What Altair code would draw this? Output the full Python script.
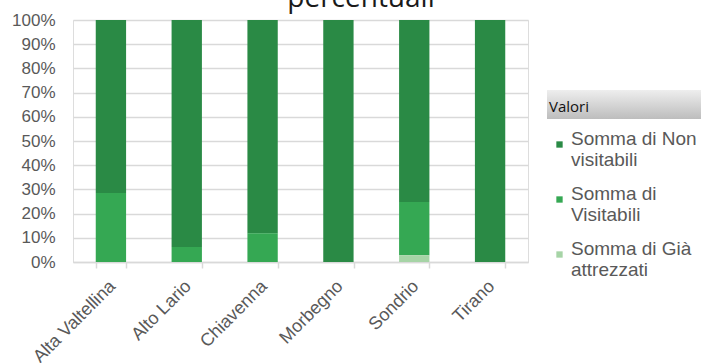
import altair as alt
import pandas as pd

# Shares per area (percent of the total for each area)
aree = ["Alta Valtellina", "Alto Lario", "Chiavenna", "Morbegno", "Sondrio", "Tirano"]
gia_attrezzati = [0.0, 0.0, 0.0, 0.0, 2.8, 0.0]
visitabili = [28.5, 6.2, 11.9, 0.0, 22.0, 0.0]
non_visitabili = [71.5, 93.8, 88.1, 100.0, 75.2, 100.0]

serie = ["Somma di Non visitabili", "Somma di Visitabili", "Somma di Già attrezzati"]
colori = ["#2a8a45", "#35a853", "#a6d4a6"]
ordine_stack = {"Somma di Già attrezzati": 0, "Somma di Visitabili": 1, "Somma di Non visitabili": 2}

rows = []
for i, area in enumerate(aree):
    for nome, valori in zip(serie, [non_visitabili, visitabili, gia_attrezzati]):
        rows.append({"area": area, "serie": nome, "valore": valori[i], "ordine": ordine_stack[nome]})
df = pd.DataFrame(rows)

W, H = 455, 242
label_font = "Liberation Sans"
grey = "#595959"

bars = alt.Chart(df).mark_bar().encode(
    x=alt.X(
        "area:N",
        sort=aree,
        title=None,
        scale=alt.Scale(paddingInner=0.6, paddingOuter=0.3),
        axis=alt.Axis(
            labelAngle=-45,
            labelFont=label_font,
            labelFontSize=18,
            labelColor=grey,
            labelPadding=9,
            labelOffset=-5,
            domainColor="#d9d9d9",
            domainWidth=1.5,
            tickColor="#d9d9d9",
            tickWidth=1.5,
            tickSize=6,
            tickBand="extent",
            grid=False,
        ),
    ),
    y=alt.Y(
        "valore:Q",
        stack="normalize",
        title=None,
        axis=alt.Axis(
            values=[i / 10 for i in range(11)],
            format=".0%",
            labelFont=label_font,
            labelFontSize=17,
            labelColor=grey,
            labelPadding=18,
            domain=False,
            ticks=False,
            gridColor="#d9d9d9",
            gridWidth=1.5,
        ),
    ),
    color=alt.Color(
        "serie:N",
        scale=alt.Scale(domain=serie, range=colori),
        legend=alt.Legend(
            title=None,
            orient="none",
            legendX=477,
            legendY=115,
            symbolType="square",
            symbolSize=40,
            symbolStrokeWidth=0,
            labelFont=label_font,
            labelFontSize=19,
            labelColor=grey,
            labelBaseline="alphabetic",
            labelOffset=2,
            labelLimit=200,
            labelExpr="split(replace(datum.label, /^(Somma di( Non| Già)?) /, '$1|'), '|')",
            rowPadding=14,
            padding=0,
        ),
    ),
    order=alt.Order("ordine:Q", sort="ascending"),
)

header_df = pd.DataFrame({"testo": ["Valori"]})
header_box = alt.Chart(header_df).mark_rect(
    color=alt.Gradient(
        gradient="linear",
        x1=0, x2=0, y1=0, y2=1,
        stops=[
            alt.GradientStop(color="#eeeeee", offset=0),
            alt.GradientStop(color="#bdbdbd", offset=1),
        ],
    )
).encode(x=alt.value(474), x2=alt.value(640), y=alt.value(70), y2=alt.value(99))

header_text = alt.Chart(header_df).mark_text(
    align="left", baseline="alphabetic", font="Open Sans", fontSize=15, color="#111111"
).encode(text="testo:N", x=alt.value(476), y=alt.value(92))

# Chart title, whose upper part runs past the top edge of the canvas
title_df = pd.DataFrame({"testo": ["percentuali"]})
title_text = alt.Chart(title_df).mark_text(
    align="center", baseline="alphabetic", font="Open Sans", fontSize=28, color="#1a1a1a"
).encode(text="testo:N", x=alt.value(288), y=alt.value(-13))

chart = alt.layer(header_box, bars, header_text, title_text).properties(
    width=W,
    height=H,
    autosize=alt.AutoSizeParams(type="none"),
    padding={"left": 73, "top": 20, "right": 173, "bottom": 101},
).configure_view(stroke=None).configure(background="white")

chart.save("out.html", embed_options={"renderer": "svg", "actions": False})
